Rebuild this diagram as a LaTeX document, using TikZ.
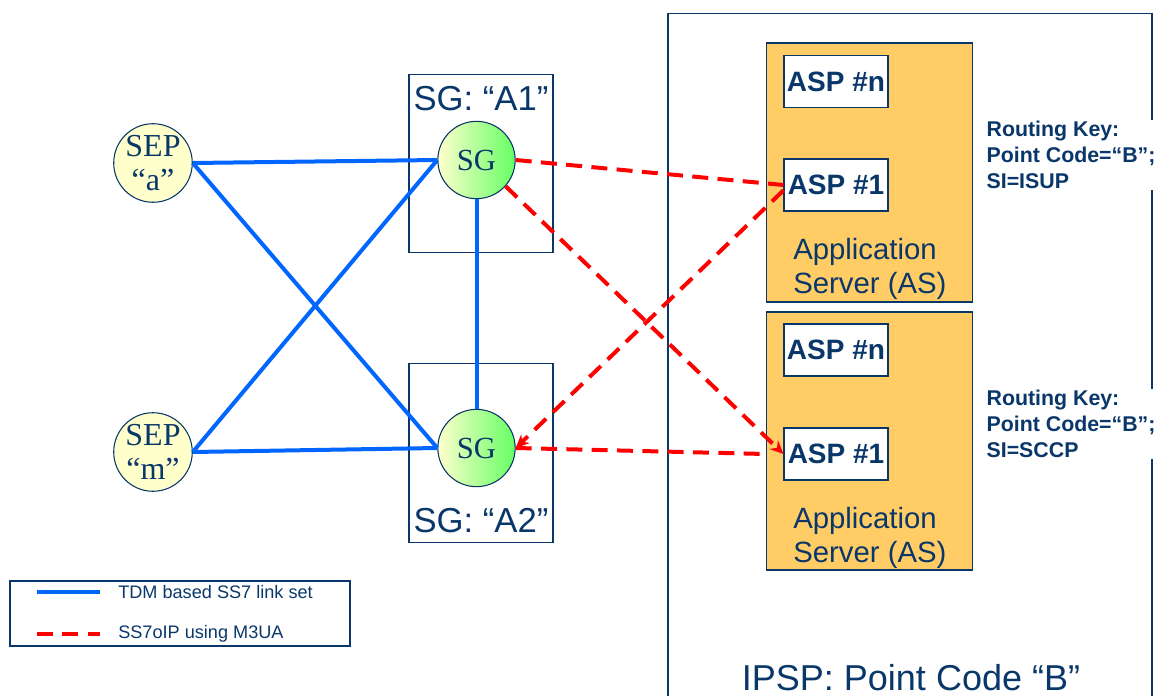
\documentclass[tikz,border=0pt]{standalone}
\usepackage{fontspec}
\setmainfont{Liberation Sans}
\newfontfamily\seriffam{Liberation Serif}
\usetikzlibrary{arrows.meta}
\definecolor{navy}{RGB}{10,55,105}
\definecolor{tdmblue}{RGB}{0,102,255}
\definecolor{asorange}{RGB}{255,204,102}
\definecolor{sepfill}{RGB}{255,255,204}
\definecolor{sggreen}{RGB}{102,255,102}
\tikzset{
  sepnode/.style={circle, draw=navy, line width=0.8pt, fill=sepfill, minimum size=58pt, inner sep=0pt,
    font=\seriffam\fontsize{24}{26}\selectfont, text=navy, align=center},
  sgnode/.style={circle, draw=navy, line width=0.8pt, left color=sepfill, right color=sggreen,
    minimum size=58pt, inner sep=0pt, font=\seriffam\fontsize{23}{24}\selectfont, text=navy},
  gwbox/.style={draw=navy, line width=0.8pt, minimum width=108pt, minimum height=134pt, inner sep=0pt},
  gwlabel/.style={font=\fontsize{26}{28}\selectfont, text=navy, inner sep=0pt},
  asbox/.style={draw=navy, line width=0.8pt, fill=asorange, minimum width=155pt, inner sep=0pt},
  aspbox/.style={draw=navy, line width=0.8pt, fill=white, minimum width=78pt, minimum height=39pt, inner sep=0pt,
    font=\bfseries\fontsize{21}{24}\selectfont, text=navy},
  astext/.style={align=left, anchor=west, font=\fontsize{22}{26}\selectfont, text=navy, inner sep=0pt},
  tdm/.style={tdmblue, line width=3pt},
  m3ua/.style={red, line width=3pt, dash pattern=on 12pt off 7pt},
  rkey/.style={fill=white, align=left, anchor=west, font=\bfseries\fontsize{16}{19.5}\selectfont, text=navy, inner sep=1pt},
  legtext/.style={anchor=west, font=\fontsize{13.6}{15}\selectfont, text=navy, inner sep=0pt},
  tip/.style={-{Stealth[length=10pt,width=9pt]}}
}
\begin{document}
\begin{tikzpicture}[x=0.75pt,y=-0.75pt]
\useasboundingbox (0,0) rectangle (1160,696);
% IPSP container
\node[draw=navy, line width=1pt, minimum width=363pt, minimum height=530pt, inner sep=0pt] (ipsp) at (910,366.5) {};
\node[font=\fontsize{27}{30}\selectfont, text=navy, inner sep=0pt] (ipsplabel) at (911,678) {IPSP: Point Code “B”};
% Gateway boxes
\node[gwbox] (boxA1) at (481,163.5) {};
\node[gwbox] (boxA2) at (481,453) {};
\node[gwlabel] (labA1) at (481,99) {SG: “A1”};
\node[gwlabel] (labA2) at (481,521) {SG: “A2”};
% Application servers
\node[asbox, minimum height=194.25pt] (as1) at (869.5,172.5) {};
\node[asbox, minimum height=193.5pt] (as2) at (869.5,441) {};
\node[aspbox] (aspn1) at (836,81.5) {ASP \#n};
\node[aspbox] (asp11) at (836,185) {ASP \#1};
\node[aspbox] (aspn2) at (836,350) {ASP \#n};
\node[aspbox] (asp12) at (836,454) {ASP \#1};
\node[astext] (astext1) at (793,269) {Application\\Server (AS)};
\node[astext] (astext2) at (793,538) {Application\\Server (AS)};
% Routing keys
\node[rkey] (rk1) at (985,155) {Routing Key:\\Point Code=“B”;\\SI=ISUP};
\node[rkey] (rk2) at (985,424) {Routing Key:\\Point Code=“B”;\\SI=SCCP};
% SEPs and SGs
\node[sepnode] (sepa) at (153,163) {SEP\\“a”};
\node[sepnode] (sepm) at (153,452) {SEP\\“m”};
\node[sgnode] (sg1) at (476.5,160) {SG};
\node[sgnode] (sg2) at (476.5,448) {SG};
% TDM links
\draw[tdm] (sepa.east) -- (sg1.west);
\draw[tdm] (sepa.east) -- (sg2.west);
\draw[tdm] (sepm.east) -- (sg1.west);
\draw[tdm] (sepm.east) -- (sg2.west);
\draw[tdm] (sg1.south) -- (sg2.north);
% M3UA links
\draw[m3ua] (sg1.east) -- (asp11.west);
\draw[m3ua, tip] (sg1.-42) -- (asp12.west);
\draw[m3ua, tip] ([yshift=-4pt]asp11.west) -- (sg2.east);
\draw[m3ua] (sg2.east) -- (as2.west |- asp12.west);
% Legend
\node[draw=navy, line width=0.8pt, minimum width=255pt, minimum height=48.75pt, inner sep=0pt] (legend) at (180,613.5) {};
\coordinate (l1a) at (37,592);
\coordinate (l1b) at (100,592);
\coordinate (l2a) at (37,634);
\coordinate (l2b) at (100,634);
\draw[tdm] (l1a) -- (l1b);
\draw[m3ua] (l2a) -- (l2b);
\node[legtext] (lt1) at (118,592) {TDM based SS7 link set};
\node[legtext] (lt2) at (118,634) {SS7oIP using M3UA};
\end{tikzpicture}
\end{document}
